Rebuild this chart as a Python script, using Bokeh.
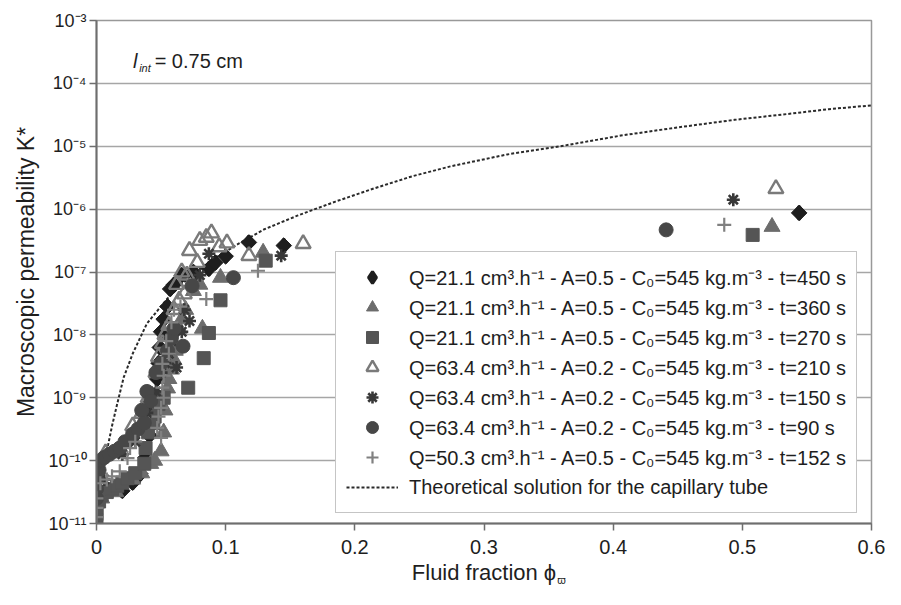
import numpy as np
from bokeh.plotting import figure
from bokeh.models import Range1d, FixedTicker, Legend, LegendItem, Label, LinearAxis
from bokeh.embed import file_html
from bokeh.resources import INLINE

# ---------------- data ----------------
x_ticks = [0.0, 0.1, 0.2, 0.3, 0.4, 0.5, 0.6]
x_tick_labels = ["0", "0.1", "0.2", "0.3", "0.4", "0.5", "0.6"]
y_ticks = [1e-11, 1e-10, 1e-9, 1e-8, 1e-7, 1e-6, 1e-5, 1e-4, 1e-3]
y_tick_labels = ["10\u207b\u00b9\u00b9", "10\u207b\u00b9\u2070", "10\u207b\u2079", "10\u207b\u2078",
                 "10\u207b\u2077", "10\u207b\u2076", "10\u207b\u2075", "10\u207b\u2074", "10\u207b\u00b3"]

series_labels = [
    "Q=21.1 cm\u00b3.h\u207b\u00b9 - A=0.5 - C\u2080=545 kg.m\u207b\u00b3 - t=450 s",
    "Q=21.1 cm\u00b3.h\u207b\u00b9 - A=0.5 - C\u2080=545 kg.m\u207b\u00b3 - t=360 s",
    "Q=21.1 cm\u00b3.h\u207b\u00b9 - A=0.5 - C\u2080=545 kg.m\u207b\u00b3 - t=270 s",
    "Q=63.4 cm\u00b3.h\u207b\u00b9 - A=0.2 - C\u2080=545 kg.m\u207b\u00b3 - t=210 s",
    "Q=63.4 cm\u00b3.h\u207b\u00b9 - A=0.2 - C\u2080=545 kg.m\u207b\u00b3 - t=150 s",
    "Q=63.4 cm\u00b3.h\u207b\u00b9 - A=0.2 - C\u2080=545 kg.m\u207b\u00b3 - t=90 s",
    "Q=50.3 cm\u00b3.h\u207b\u00b9 - A=0.5 - C\u2080=545 kg.m\u207b\u00b3 - t=152 s",
]
curve_label = "Theoretical solution for the capillary tube"

# fluid fraction and log10 of K* for every series
diamond_phi = [0.020, 0.028, 0.034, 0.038, 0.041, 0.043, 0.044, 0.046, 0.047, 0.048, 0.049, 0.050,
               0.052, 0.055, 0.057, 0.060, 0.066, 0.075, 0.087, 0.092, 0.100, 0.118, 0.145, 0.544]
diamond_logK = [-10.48, -10.35, -10.21, -9.95, -9.6, -9.4, -9.2, -8.95, -8.7, -8.45, -8.2, -7.95,
                -7.75, -7.55, -7.27, -7.2, -7.05, -7.0, -6.95, -6.85, -6.75, -6.53, -6.58, -6.06]

tri_phi = [0.004, 0.015, 0.028, 0.035, 0.042, 0.045, 0.050, 0.052, 0.053, 0.055, 0.056, 0.058,
           0.060, 0.061, 0.064, 0.066, 0.069, 0.075, 0.080, 0.082, 0.096, 0.129, 0.523]
tri_logK = [-10.6, -10.5, -10.3, -10.2, -10.05, -10.0, -9.85, -9.55, -9.2, -8.85, -8.7, -8.55,
            -8.4, -8.25, -7.9, -7.75, -7.6, -7.3, -7.2, -7.9, -7.09, -6.69, -6.28]

sq_phi = [0.0, 0.0, 0.0, 0.002, 0.004, 0.008, 0.012, 0.016, 0.020, 0.024, 0.030, 0.037, 0.038,
          0.040, 0.044, 0.045, 0.048, 0.052, 0.071, 0.083, 0.087, 0.096, 0.131, 0.508]
sq_logK = [-10.95, -10.85, -10.75, -10.65, -10.55, -10.5, -10.45, -10.4, -10.35, -10.28, -10.2, -10.05, -9.8,
           -9.55, -9.4, -9.3, -9.1, -9.0, -8.84, -8.37, -7.97, -7.45, -6.82, -6.41]

otri_phi = [0.007, 0.028, 0.035, 0.040, 0.046, 0.048, 0.051, 0.053, 0.056, 0.060, 0.062, 0.064,
            0.066, 0.068, 0.070, 0.072, 0.078, 0.080, 0.085, 0.089, 0.095, 0.101, 0.118, 0.160, 0.526]
otri_logK = [-9.88, -9.45, -9.25, -9.0, -8.6, -8.35, -8.14, -8.0, -7.85, -7.6, -7.2, -7.45,
             -7.0, -7.35, -7.05, -6.66, -6.85, -6.5, -6.45, -6.38, -6.6, -6.54, -6.74, -6.55, -5.675]

ast_phi = [0.006, 0.020, 0.030, 0.039, 0.042, 0.046, 0.050, 0.053, 0.056, 0.058, 0.062, 0.066,
           0.068, 0.072, 0.080, 0.087, 0.143, 0.493]
ast_logK = [-10.3, -9.9, -9.7, -9.24, -9.05, -8.9, -8.6, -8.45, -8.3, -8.1, -8.52, -7.95,
            -7.6, -7.78, -7.05, -6.71, -6.74, -5.85]

cir_phi = [0.0, 0.0, 0.0, 0.002, 0.003, 0.006, 0.010, 0.014, 0.018, 0.022, 0.028, 0.032, 0.035,
           0.037, 0.039, 0.042, 0.046, 0.050, 0.055, 0.058, 0.060, 0.067, 0.074, 0.106, 0.441]
cir_logK = [-10.6, -10.45, -10.3, -10.15, -10.0, -9.95, -9.9, -9.85, -9.8, -9.7, -9.58, -9.5, -9.2,
            -9.4, -8.9, -9.05, -8.6, -8.45, -8.25, -8.05, -7.9, -8.18, -7.22, -7.09, -6.33]

plus_phi = [0.0, 0.0, 0.0, 0.003, 0.008, 0.012, 0.018, 0.024, 0.026, 0.030, 0.047, 0.048, 0.050,
            0.050, 0.051, 0.052, 0.052, 0.051, 0.054, 0.056, 0.058, 0.060, 0.065, 0.085, 0.125, 0.486]
plus_logK = [-10.9, -10.75, -10.6, -10.36, -10.3, -10.25, -10.17, -9.96, -9.8, -9.7, -9.48, -9.3, -9.64,
             -9.16, -8.84, -9.0, -8.65, -8.46, -8.1, -8.3, -7.8, -7.6, -7.55, -7.43, -6.98, -6.25]

curve_phi = [0.006, 0.009, 0.012, 0.016, 0.021, 0.028, 0.039, 0.055, 0.075, 0.090, 0.110, 0.130,
             0.156, 0.185, 0.215, 0.244, 0.274, 0.318, 0.362, 0.406, 0.450, 0.494, 0.538, 0.567, 0.600]
curve_logK = [-10.0, -9.75, -9.45, -9.1, -8.68, -8.3, -7.82, -7.42, -7.02, -6.8, -6.55, -6.32,
              -6.1, -5.88, -5.67, -5.48, -5.32, -5.13, -4.99, -4.83, -4.70, -4.58, -4.48, -4.41, -4.35]

# ---------------- figure ----------------
FONT = "Liberation Sans"

p = figure(width=885, height=589, x_range=Range1d(0, 0.6), y_range=Range1d(1e-11, 1e-3),
           y_axis_type="log", output_backend="svg", toolbar_location=None,
           min_border_left=96, min_border_right=14, min_border_top=20, min_border_bottom=66,
           background_fill_color="white", border_fill_color="white")

p.outline_line_color = "#999999"
p.outline_line_width = 1.5
p.xgrid.grid_line_color = None
p.ygrid.grid_line_color = "#a6a6a6"
p.ygrid.grid_line_width = 1.5

p.xaxis.ticker = FixedTicker(ticks=x_ticks)
p.xaxis.major_label_overrides = dict(zip(x_ticks, x_tick_labels))
p.yaxis.ticker = FixedTicker(ticks=y_ticks)
p.yaxis.major_label_overrides = dict(zip(y_ticks, y_tick_labels))
for ax in (p.xaxis, p.yaxis):
    ax.axis_line_color = "#6e6e6e"
    ax.axis_line_width = 2
    ax.major_tick_line_color = "#6e6e6e"
    ax.major_tick_line_width = 1.5
    ax.major_tick_out = 7
    ax.major_tick_in = 0
    ax.minor_tick_line_color = None
    ax.major_label_text_font = FONT
    ax.major_label_text_color = "#1e1e1e"
    ax.axis_label_text_font = FONT
    ax.axis_label_text_font_style = "normal"
    ax.axis_label_text_color = "#1e1e1e"
p.xaxis.major_label_text_font_size = "20px"
p.xaxis.major_label_standoff = 9
p.xaxis.axis_label = "Fluid fraction \u03d5"
p.xaxis.axis_label_text_font_size = "22px"
p.xaxis.axis_label_standoff = 3
p.yaxis.major_label_text_font_size = "18px"
p.yaxis.major_label_standoff = 3
p.yaxis.axis_label = "Macroscopic permeability K*"
p.yaxis.axis_label_text_font_size = "23px"
p.yaxis.axis_label_standoff = 6

# second (tick-less) axis carrying the small subscript of the x title
sub_axis = LinearAxis(ticker=FixedTicker(ticks=[0.360]), major_label_overrides={0.360: "\u03d6"},
                      axis_line_color=None, major_tick_line_color=None, minor_tick_line_color=None,
                      major_tick_out=0, major_tick_in=0, major_label_standoff=-14,
                      major_label_text_font=FONT, major_label_text_font_size="11px",
                      major_label_text_color="#1e1e1e")
p.add_layout(sub_axis, "below")


def K(vals):
    return 10.0 ** np.array(vals)


r_curve = p.line(curve_phi, K(curve_logK), line_color="#2a2a2a", line_width=2, line_dash="3 2")

# diamond series: a 'diamond' marker (used as legend key) under a 45-degree square
r1_key = p.scatter(diamond_phi, K(diamond_logK), marker="diamond", size=13,
                   fill_color="#1e1e1e", line_color="#1e1e1e", line_width=3)
r1 = p.scatter(diamond_phi, K(diamond_logK), marker="square", angle=np.pi / 4, size=11,
               fill_color="#1e1e1e", line_color="#1e1e1e")
r2 = p.scatter(tri_phi, K(tri_logK), marker="triangle", size=16,
               fill_color="#6c6c6c", line_color="#6c6c6c")
r3 = p.scatter(sq_phi, K(sq_logK), marker="square", size=13,
               fill_color="#555555", line_color="#555555")
r4 = p.scatter(otri_phi, K(otri_logK), marker="triangle", size=15,
               fill_color="white", fill_alpha=0.0, line_color="#7a7a7a", line_width=2.4)
r5 = p.scatter(ast_phi, K(ast_logK), marker="asterisk", size=13,
               line_color="#383838", line_width=2.6)
r6 = p.scatter(cir_phi, K(cir_logK), marker="circle", size=14,
               fill_color="#474747", line_color="#474747")
r7 = p.scatter(plus_phi, K(plus_logK), marker="cross", size=14,
               line_color="#808080", line_width=2.2)

items = [LegendItem(label=lab, renderers=[r]) for lab, r in
         zip(series_labels, [r1_key, r2, r3, r4, r5, r6, r7])]
items.append(LegendItem(label=curve_label, renderers=[r_curve]))
legend = Legend(items=items, location=(239, 10), label_text_font=FONT, label_text_font_size="20px",
                label_text_color="#1e1e1e", glyph_width=52, glyph_height=30, label_height=20,
                spacing=0, padding=10, margin=0, label_standoff=11,
                border_line_color="#8c8c8c", border_line_width=1.5,
                background_fill_color="white", background_fill_alpha=1.0)
p.add_layout(legend)

# l_int = 0.75 cm annotation
p.add_layout(Label(x=0.0283, y=10 ** -3.65, text="l", text_font=FONT, text_font_size="20px",
                   text_font_style="italic", text_baseline="middle", text_color="#1e1e1e"))
p.add_layout(Label(x=0.0330, y=10 ** -3.76, text="int", text_font=FONT, text_font_size="11px",
                   text_font_style="italic", text_baseline="middle", text_color="#1e1e1e"))
p.add_layout(Label(x=0.045, y=10 ** -3.65, text="= 0.75 cm", text_font=FONT, text_font_size="20px",
                   text_baseline="middle", text_color="#1e1e1e"))

open("out.html", "w").write(file_html(p, INLINE))
